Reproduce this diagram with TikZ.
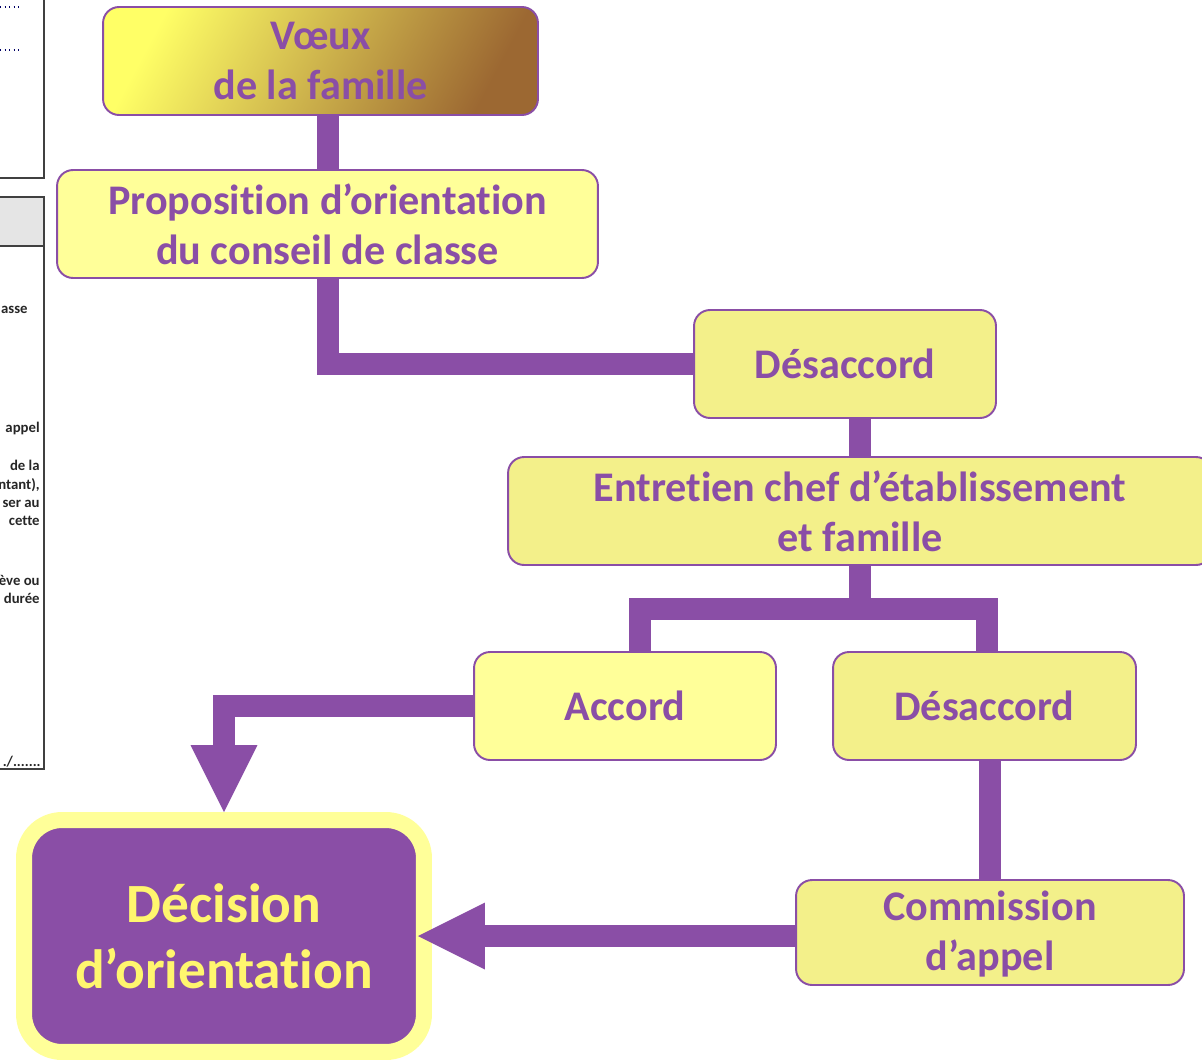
\documentclass[tikz,border=0pt]{standalone}
\usepackage{fontspec}
\setmainfont{Carlito}[Ligatures={NoCommon,NoContextual}]
\usepackage{tikz}
\usetikzlibrary{arrows.meta,positioning}

\definecolor{vpurple}{RGB}{138,78,166}
\definecolor{lyellow}{RGB}{255,255,153}
\definecolor{dyellow}{RGB}{243,240,138}
\definecolor{vyellow}{RGB}{255,255,102}
\definecolor{vbrown}{RGB}{156,104,50}
\definecolor{tyellow}{RGB}{255,246,110}

\begin{document}
\begin{tikzpicture}[x=0.02cm, y=-0.02cm,
    box/.style = {draw=vpurple, line width=1.1pt, rounded corners=0.32cm, fill=lyellow, text=vpurple,
        font=\bfseries\fontsize{24}{28.5}\selectfont, align=center, inner sep=0pt, minimum height=2.16cm},
    darkbox/.style = {box, fill=dyellow},
    link/.style = {draw=vpurple, line width=0.44cm, line join=miter},
    bigtip/.style = {-{Triangle[width=1.34cm, length=1.34cm, line width=0pt]}},
    pagetext/.style = {font=\bfseries\fontsize{8.4}{10}\selectfont, text=black!85, anchor=base east, inner sep=0pt}]
    \useasboundingbox (0,0) rectangle (1202,1061);
    \clip (0,0) rectangle (1202,1061);

    \draw[black!75, line width=1pt] (-5,178) -- (44,178) -- (44,-5);
    \draw[black!75, line width=1pt, fill=black!10] (-5,197) rectangle (44,246);
    \draw[black!75, line width=1pt] (44,246) -- (44,769) -- (-5,769);
    \draw[blue!40!black, dotted, line width=0.6pt] (0,7) -- (19,7);
    \draw[blue!40!black, dotted, line width=0.6pt] (0,50) -- (21,50);
    \node[pagetext] (t1) at (28,313) {asse};
    \node[pagetext] (t2) at (40,432) {appel};
    \node[pagetext] (t3) at (40,470) {de la};
    \node[pagetext] (t4) at (40,489) {ntant),};
    \node[pagetext] (t5) at (40,507) {ser au};
    \node[pagetext] (t6) at (40,525) {cette};
    \node[pagetext] (t7) at (40,585) {ève ou};
    \node[pagetext] (t8) at (40,603) {durée};
    \node[pagetext] (t9) at (41,766) {./.......};

    \node[box, top color=vyellow, bottom color=vbrown, shading angle=62, minimum width=8.7cm] (voeux) at (320.5,61) {Vœux\\de la famille};
    \node[box, minimum width=10.82cm] (prop) at (327.5,224) {Proposition d’orientation\\du conseil de classe};
    \node[darkbox, minimum width=6.04cm] (des1) at (845,364) {Désaccord};
    \node[darkbox, minimum width=14.08cm] (entretien) at (860,511) {Entretien chef d’établissement\\et famille};
    \node[box, minimum width=6.04cm] (accord) at (625,706) {Accord};
    \node[darkbox, minimum width=6.06cm] (des2) at (984.5,706) {Désaccord};
    \node[darkbox, minimum width=7.76cm, minimum height=2.1cm, text depth=0.08cm] (commission) at (990,932.5) {Commission\\d’appel};
    \node[draw=lyellow, line width=0.32cm, rounded corners=0.76cm, fill=vpurple, text=tyellow,
        font=\bfseries\fontsize{31.5}{37.6}\selectfont, align=center, inner sep=0pt,
        minimum width=8cm, minimum height=4.64cm] (decision) at (224,936) {Décision\\d’orientation};

    \coordinate (forkL) at (640,609);
    \coordinate (forkR) at (987,609);

    \draw[link] (voeux.south -| prop.north) -- (prop.north);
    \draw[link] (prop.south) |- (des1.west);
    \draw[link] (des1.south -| entretien.north) -- (entretien.north);
    \draw[link] (entretien.south) -- (entretien.south |- forkL);
    \draw[link] (forkL |- accord.north) -- (forkL) -- (forkR) -- (forkR |- des2.north);
    \draw[link, bigtip] (accord.west) -| (decision.north);
    \draw[link] (des2.south -| commission.north) -- (commission.north);
    \draw[link, bigtip, shorten >=-0.28cm] (decision.east -| commission.west) -- (decision.east);
\end{tikzpicture}
\end{document}
